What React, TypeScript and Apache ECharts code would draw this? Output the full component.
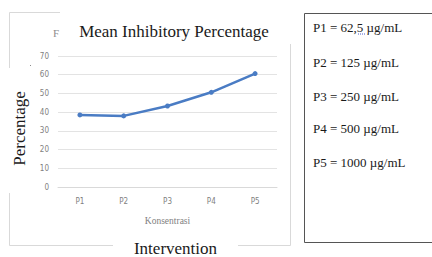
import React, { useEffect, useRef } from "react";
import * as echarts from "echarts";

const categories = ["P1", "P2", "P3", "P4", "P5"];
const meanInhibition = [38.5, 38.0, 43.3, 50.6, 60.6];
const legendLines = [
  "P1 = 62,5 µg/mL",
  "P2 = 125 µg/mL",
  "P3 = 250 µg/mL",
  "P4 = 500 µg/mL",
  "P5 = 1000 µg/mL",
];
const titleText = "Mean Inhibitory Percentage";
const yAxisTitle = "Percentage";
const xAxisTitle = "Konsentrasi";
const outerTitle = "Intervention";

const SERIF = "'Liberation Serif', 'Times New Roman', serif";
const NARROW = "'Liberation Sans Narrow', 'DejaVu Sans Condensed', sans-serif";

export default function App() {
  const ref = useRef<HTMLDivElement>(null);
  useEffect(() => {
    if (!ref.current) return;
    const chart = echarts.init(ref.current, undefined, { renderer: "svg" });
    const legendY = [27, 62, 96, 128, 162];
    chart.setOption({
      animation: false,
      backgroundColor: "#ffffff",
      grid: { left: 58, right: 155, top: 56, bottom: 70, containLabel: false },
      xAxis: {
        type: "category",
        data: categories,
        boundaryGap: true,
        axisLine: { show: true, lineStyle: { color: "#d9d9d9", width: 1 } },
        axisTick: { show: false },
        axisLabel: { color: "#7f7f7f", fontSize: 8, fontFamily: NARROW, margin: 10 },
        name: xAxisTitle,
        nameLocation: "middle",
        nameGap: 29,
        nameTextStyle: { color: "#7f7f7f", fontSize: 9.5, fontFamily: SERIF },
      },
      yAxis: {
        type: "value",
        min: 0,
        max: 70,
        interval: 10,
        axisLine: { show: false },
        axisTick: { show: false },
        axisLabel: { color: "#7f7f7f", fontSize: 8, fontFamily: NARROW, margin: 9 },
        splitLine: { lineStyle: { color: "#e3e3e3", width: 1 } },
      },
      series: [
        {
          type: "line",
          data: meanInhibition,
          symbol: "circle",
          symbolSize: 5,
          lineStyle: { color: "#4a7cc4", width: 2.5 },
          itemStyle: { color: "#4a7cc4" },
        },
      ],
      graphic: [
        {
          type: "rect",
          z: 0,
          shape: { x: 9.5, y: 12.5, width: 281, height: 233 },
          style: { fill: "none", stroke: "#d9d9d9", lineWidth: 1 },
        },
        {
          type: "text",
          z: 1,
          x: 53,
          y: 27,
          style: { text: "F", fill: "#8c8c8c", font: `11px ${SERIF}` },
        },
        {
          type: "rect",
          z: 2,
          shape: { x: 60, y: 0, width: 234, height: 44 },
          style: { fill: "#ffffff" },
        },
        {
          type: "text",
          z: 3,
          x: 174,
          y: 31,
          style: {
            text: titleText,
            fill: "#1a1a1a",
            font: `17px ${SERIF}`,
            align: "center",
            verticalAlign: "middle",
          },
        },
        {
          type: "rect",
          z: 2,
          shape: { x: 0, y: 68, width: 28, height: 125 },
          style: { fill: "#ffffff" },
        },
        {
          type: "line",
          z: 3,
          shape: { x1: 30, y1: 66, x2: 31, y2: 65 },
          style: { stroke: "#8c8c8c", lineWidth: 1 },
        },
        {
          type: "text",
          z: 3,
          x: 19,
          y: 128.5,
          rotation: Math.PI / 2,
          style: {
            text: yAxisTitle,
            fill: "#1a1a1a",
            font: `17px ${SERIF}`,
            align: "center",
            verticalAlign: "middle",
          },
        },
        {
          type: "rect",
          z: 2,
          shape: { x: 113, y: 238, width: 125, height: 19 },
          style: { fill: "#ffffff" },
        },
        {
          type: "text",
          z: 3,
          x: 175.5,
          y: 248.5,
          style: {
            text: outerTitle,
            fill: "#1a1a1a",
            font: `17px ${SERIF}`,
            align: "center",
            verticalAlign: "middle",
          },
        },
        {
          type: "rect",
          z: 2,
          shape: { x: 304.5, y: 13.5, width: 140, height: 229 },
          style: { fill: "#ffffff", stroke: "#555555", lineWidth: 1 },
        },
        ...legendLines.map((t, i) => ({
          type: "text",
          z: 3,
          x: 313,
          y: legendY[i],
          style: {
            text: t,
            fill: "#1a1a1a",
            font: `13px ${SERIF}`,
            verticalAlign: "middle",
          },
        })),
        {
          type: "line",
          z: 4,
          shape: { x1: 358, y1: 34, x2: 365, y2: 34 },
          style: { stroke: "#4a5fd0", lineWidth: 1, lineDash: [1, 1] },
        },
      ],
    });
    return () => chart.dispose();
  }, []);
  return (
    <div
      ref={ref}
      style={{ position: "fixed", left: 0, top: 0, width: 432, height: 257 }}
    />
  );
}
